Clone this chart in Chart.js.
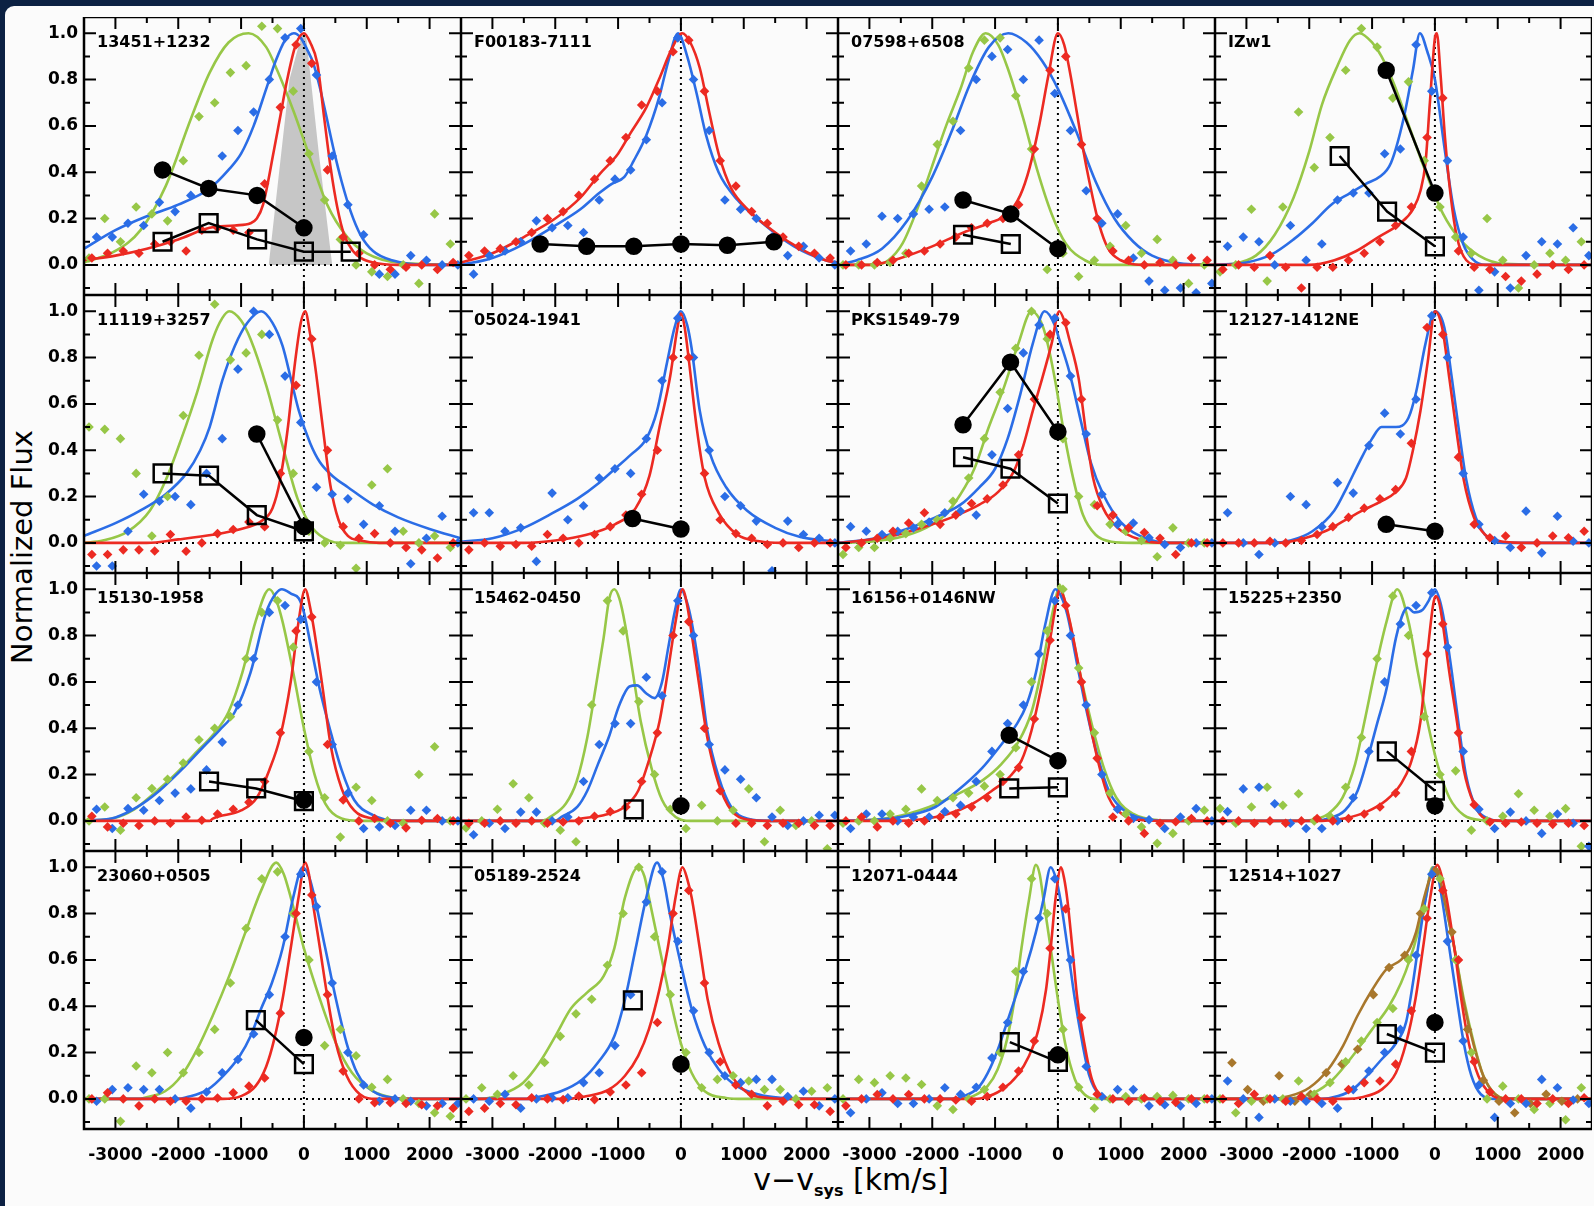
<!DOCTYPE html>
<html>
<head>
<meta charset="utf-8">
<script src="https://cdn.jsdelivr.net/npm/chart.js@4.4.1/dist/chart.umd.min.js"></script>
<style>
html, body { margin: 0; padding: 0; }
body { width: 1594px; height: 1206px; background: #0c2143; position: relative; overflow: hidden; font-family: "DejaVu Sans", sans-serif; }
#sheet { position: absolute; left: 5px; top: 6px; right: 0; bottom: 0; background: #fbfbfb; border-top-left-radius: 9px; }
canvas { position: absolute; }
#ytitle { position: absolute; left: 22px; top: 547px; transform: translate(-50%, -50%) rotate(-90deg); font-size: 29px; white-space: nowrap; color: #000; }
#xtitle { position: absolute; left: 851px; top: 1181px; transform: translate(-50%, -50%); font-size: 30px; white-space: nowrap; color: #000; }
#xtitle sub { font-size: 16px; font-weight: bold; vertical-align: -6px; }
</style>
</head>
<body>
<div id="sheet"></div>
<div id="ytitle">Normalized Flux</div>
<div id="xtitle">v&#8722;v<sub>sys</sub> [km/s]</div>
<script>
// panel names, row by row
const PANEL_NAMES = ['13451+1232', 'F00183-7111', '07598+6508', 'IZw1',
  '11119+3257', '05024-1941', 'PKS1549-79', '12127-1412NE',
  '15130-1958', '15462-0450', '16156+0146NW', '15225+2350',
  '23060+0505', '05189-2524', '12071-0444', '12514+1027'];

// axis ticks
const X_LABELS = [-3000, -2000, -1000, 0, 1000, 2000];
const X_MINOR = [-2500, -1500, -500, 500, 1500];
const Y_LABELS = [0, 0.2, 0.4, 0.6, 0.8, 1.0];
const Y_MINOR = [-0.1, 0.1, 0.3, 0.5, 0.7, 0.9];

// velocity channels of the measured points
const RED_DOT_X = [-3375, -3125, -2875, -2625, -2375, -2125, -1875, -1625, -1375, -1125, -875, -625, -375, -125, 125, 375, 625, 875, 1125, 1375, 1625, 1875, 2125, 2375];
const BLUE_DOT_X = [-3300, -3050, -2800, -2550, -2300, -2050, -1800, -1550, -1300, -1050, -800, -550, -300, -50, 200, 450, 700, 950, 1200, 1450, 1700, 1950, 2200, 2450];
const GREEN_DOT_X = [-3420, -3170, -2920, -2670, -2420, -2170, -1920, -1670, -1420, -1170, -920, -670, -420, -170, 80, 330, 580, 830, 1080, 1330, 1580, 1830, 2080, 2330];
const BROWN_DOT_X = [-3230, -2980, -2730, -2480, -2230, -1980, -1730, -1480, -1230, -980, -730, -480, -230, 20, 270, 520, 770, 1020, 1270, 1520, 1770, 2020, 2270];

// fitted profiles [v, flux]
const RED_FIT = [
  [[-3500,0.02],[-3000,0.04],[-2500,0.07],[-2000,0.11],[-1500,0.16],[-1100,0.17],[-850,0.18],[-750,0.2],[-650,0.26],[-480,0.49],[-370,0.65],[-266,0.8],[-130,0.95],[0,1.0],[100,0.96],[213,0.87],[320,0.64],[425,0.42],[530,0.25],[640,0.13],[780,0.06],[905,0.03],[1100,0.01],[1500,0],[2500,0]],
  [[-3500,0.01],[-3000,0.05],[-2500,0.12],[-2000,0.2],[-1600,0.29],[-1300,0.39],[-1000,0.48],[-800,0.57],[-550,0.68],[-350,0.8],[-150,0.93],[20,1.0],[150,0.96],[300,0.85],[450,0.66],[600,0.48],[800,0.33],[1100,0.23],[1500,0.14],[1900,0.07],[2300,0.02],[2500,0.01]],
  [[-3500,0],[-3000,0],[-2500,0.03],[-2000,0.08],[-1500,0.14],[-1100,0.18],[-800,0.22],[-600,0.3],[-450,0.42],[-300,0.6],[-150,0.82],[0,1.0],[100,0.95],[200,0.82],[300,0.66],[400,0.5],[500,0.36],[650,0.18],[800,0.07],[1000,0.02],[1400,0],[2500,0]],
  [[-3500,0],[-2000,0],[-1600,0.02],[-1250,0.06],[-900,0.12],[-550,0.18],[-350,0.24],[-230,0.32],[-150,0.44],[-80,0.7],[0,0.98],[30,1.0],[90,0.82],[160,0.55],[250,0.3],[350,0.12],[500,0.02],[700,0],[2500,0]],
  [[-3500,0],[-2500,0],[-2000,0.015],[-1450,0.035],[-1000,0.06],[-700,0.09],[-500,0.15],[-380,0.27],[-250,0.51],[-150,0.76],[-50,0.95],[20,1.0],[100,0.9],[170,0.78],[300,0.5],[420,0.25],[550,0.1],[700,0.03],[900,0.01],[1200,0],[2500,0]],
  [[-3500,0],[-2500,0],[-2000,0.01],[-1500,0.035],[-1050,0.08],[-720,0.15],[-500,0.29],[-340,0.5],[-170,0.72],[-60,0.92],[0,0.99],[60,0.93],[130,0.78],[250,0.5],[380,0.28],[600,0.13],[900,0.035],[1250,0.007],[1600,0],[2500,0]],
  [[-3500,0],[-3100,0.01],[-2550,0.035],[-2000,0.08],[-1600,0.12],[-1250,0.165],[-950,0.22],[-700,0.31],[-550,0.42],[-400,0.57],[-250,0.71],[-100,0.86],[20,1.0],[100,0.96],[180,0.88],[330,0.71],[450,0.47],[560,0.28],[720,0.15],[950,0.065],[1300,0.015],[1700,0],[2500,0]],
  [[-3500,0],[-2500,0],[-2150,0.015],[-1750,0.05],[-1450,0.095],[-1150,0.14],[-850,0.18],[-620,0.22],[-460,0.28],[-350,0.4],[-230,0.57],[-115,0.78],[0,1.0],[115,0.93],[230,0.71],[350,0.47],[460,0.27],[620,0.11],[800,0.035],[1100,0.005],[1500,0],[2500,0]],
  [[-3500,0],[-1500,0],[-1450,0.01],[-1000,0.045],[-750,0.1],[-550,0.22],[-380,0.36],[-210,0.6],[-85,0.86],[20,1.0],[100,0.92],[170,0.81],[300,0.57],[430,0.32],[600,0.14],[800,0.045],[1100,0.01],[1500,0],[2500,0]],
  [[-3500,0],[-1700,0],[-1650,0.006],[-1230,0.024],[-900,0.06],[-680,0.13],[-510,0.26],[-340,0.43],[-210,0.64],[-85,0.86],[25,1.0],[100,0.93],[170,0.81],[300,0.57],[420,0.36],[600,0.16],[800,0.046],[1050,0.006],[1400,0],[2500,0]],
  [[-3500,0],[-2500,0],[-2200,0.006],[-1750,0.03],[-1350,0.075],[-1050,0.13],[-770,0.19],[-580,0.26],[-420,0.39],[-270,0.57],[-120,0.79],[0,0.98],[30,1.0],[100,0.96],[190,0.86],[350,0.64],[500,0.43],[650,0.245],[810,0.1],[1050,0.024],[1350,0.003],[1800,0],[2500,0]],
  [[-3500,0],[-1800,0],[-1450,0.01],[-1080,0.04],[-770,0.09],[-540,0.16],[-390,0.245],[-230,0.43],[-120,0.72],[-30,0.93],[10,0.97],[70,0.94],[120,0.86],[230,0.64],[350,0.43],[460,0.22],[620,0.075],[800,0.01],[1100,0],[2500,0]],
  [[-3500,0],[-1300,0],[-1000,0.012],[-770,0.055],[-600,0.14],[-470,0.26],[-340,0.43],[-210,0.65],[-85,0.87],[20,1.02],[80,0.97],[130,0.87],[255,0.65],[380,0.43],[510,0.24],[680,0.1],[890,0.02],[1150,0],[2500,0]],
  [[-3500,0],[-1800,0],[-1490,0.012],[-1150,0.04],[-890,0.1],[-680,0.186],[-510,0.3],[-340,0.475],[-210,0.65],[-85,0.87],[25,1.0],[100,0.95],[170,0.87],[300,0.65],[425,0.43],[600,0.24],[810,0.1],[1060,0.026],[1400,0.004],[1800,0],[2500,0]],
  [[-3500,0],[-1400,0],[-1200,0.004],[-890,0.04],[-650,0.1],[-460,0.185],[-310,0.3],[-190,0.47],[-115,0.65],[-40,0.86],[50,1.0],[100,0.95],[150,0.86],[230,0.65],[310,0.43],[420,0.24],[540,0.085],[700,0.012],[900,0],[2500,0]],
  [[-3500,0],[-1400,0],[-1160,0.007],[-850,0.04],[-620,0.113],[-460,0.24],[-310,0.43],[-190,0.65],[-80,0.86],[40,1.01],[110,0.96],[190,0.86],[310,0.65],[420,0.43],[540,0.24],[690,0.1],[890,0.02],[1100,0],[2500,0]]
];

const BLUE_FIT = [
  [[-3500,0.07],[-3000,0.15],[-2500,0.21],[-2000,0.26],[-1500,0.33],[-1200,0.41],[-1000,0.48],[-800,0.6],[-600,0.76],[-450,0.88],[-300,0.97],[-160,1.0],[-50,0.98],[50,0.93],[150,0.87],[250,0.77],[350,0.65],[480,0.49],[600,0.36],[745,0.23],[900,0.13],[1100,0.06],[1400,0.02],[2000,0],[2500,0]],
  [[-3500,0],[-3000,0.03],[-2500,0.09],[-2000,0.17],[-1600,0.24],[-1300,0.31],[-1100,0.35],[-900,0.38],[-750,0.45],[-550,0.56],[-350,0.72],[-200,0.88],[-45,1.0],[100,0.9],[250,0.74],[400,0.56],[600,0.4],[900,0.28],[1300,0.18],[1800,0.08],[2300,0.02],[2500,0.01]],
  [[-3500,0],[-3200,0.02],[-2800,0.07],[-2400,0.19],[-2000,0.38],[-1700,0.57],[-1400,0.78],[-1100,0.94],[-790,1.0],[-500,0.96],[-250,0.88],[0,0.76],[300,0.57],[600,0.36],[900,0.2],[1200,0.1],[1500,0.04],[2000,0.005],[2500,0]],
  [[-3500,0],[-3000,0.01],[-2600,0.045],[-2250,0.11],[-1950,0.18],[-1650,0.26],[-1350,0.31],[-1100,0.35],[-880,0.38],[-700,0.44],[-500,0.63],[-350,0.84],[-240,1.0],[-120,0.92],[0,0.8],[150,0.51],[300,0.24],[450,0.09],[600,0.025],[800,0],[2500,0]],
  [[-3500,0.03],[-3000,0.085],[-2600,0.14],[-2200,0.21],[-1870,0.3],[-1650,0.4],[-1500,0.5],[-1300,0.7],[-1100,0.85],[-900,0.95],[-680,1.0],[-500,0.95],[-340,0.85],[-200,0.7],[-80,0.57],[100,0.43],[250,0.35],[450,0.29],[700,0.24],[1100,0.165],[1500,0.11],[2000,0.06],[2500,0.02]],
  [[-3500,0.005],[-3000,0.02],[-2500,0.065],[-2100,0.12],[-1650,0.19],[-1300,0.26],[-1050,0.32],[-800,0.38],[-550,0.45],[-380,0.57],[-220,0.78],[-100,0.93],[0,1.0],[100,0.94],[170,0.84],[300,0.57],[470,0.38],[720,0.24],[1050,0.14],[1500,0.065],[1900,0.025],[2500,0.005]],
  [[-3500,0],[-2900,0.02],[-2350,0.065],[-1950,0.11],[-1550,0.165],[-1250,0.24],[-1000,0.32],[-800,0.45],[-600,0.64],[-400,0.86],[-210,1.0],[-50,0.94],[20,0.88],[180,0.74],[370,0.52],[520,0.35],[720,0.21],[1000,0.09],[1400,0.02],[1800,0],[2500,0]],
  [[-3500,0],[-2600,0],[-2300,0.01],[-1950,0.05],[-1600,0.14],[-1400,0.24],[-1200,0.35],[-1000,0.45],[-850,0.5],[-620,0.5],[-420,0.54],[-300,0.65],[-150,0.86],[0,1.0],[150,0.93],[270,0.71],[390,0.47],[500,0.27],[650,0.11],[850,0.02],[1100,0],[2500,0]],
  [[-3500,0],[-3000,0.015],[-2650,0.06],[-2300,0.13],[-1950,0.22],[-1600,0.32],[-1350,0.39],[-1100,0.47],[-850,0.64],[-600,0.9],[-450,0.98],[-350,1.0],[-200,0.98],[-80,0.96],[0,0.9],[85,0.79],[250,0.57],[420,0.39],[600,0.22],[800,0.09],[1100,0.025],[1500,0],[2500,0]],
  [[-3500,0],[-2000,0],[-1900,0.017],[-1650,0.06],[-1490,0.13],[-1320,0.245],[-1150,0.36],[-980,0.5],[-820,0.58],[-700,0.585],[-550,0.55],[-420,0.53],[-300,0.6],[-200,0.75],[-100,0.9],[0,1.0],[90,0.95],[170,0.86],[300,0.64],[420,0.39],[600,0.19],[800,0.06],[1050,0.01],[1400,0],[2500,0]],
  [[-3500,0],[-2900,0.005],[-2500,0.017],[-1950,0.06],[-1600,0.13],[-1200,0.23],[-900,0.33],[-650,0.42],[-500,0.5],[-350,0.64],[-200,0.85],[-40,1.0],[50,0.97],[150,0.89],[310,0.67],[460,0.47],[620,0.29],[810,0.13],[1050,0.046],[1350,0.01],[1800,0],[2500,0]],
  [[-3500,0],[-1900,0],[-1700,0.01],[-1430,0.046],[-1230,0.13],[-1080,0.26],[-920,0.42],[-770,0.57],[-620,0.79],[-500,0.9],[-430,0.92],[-330,0.9],[-200,0.91],[-100,0.95],[0,1.0],[80,0.95],[150,0.86],[270,0.64],[390,0.39],[500,0.19],[650,0.06],[850,0.01],[1100,0],[2500,0]],
  [[-3500,0],[-2000,0],[-1870,0.007],[-1530,0.04],[-1280,0.1],[-1020,0.186],[-850,0.27],[-680,0.39],[-510,0.5],[-340,0.65],[-170,0.87],[-20,1.0],[80,0.96],[170,0.87],[340,0.65],[510,0.43],[680,0.24],[850,0.11],[1100,0.033],[1450,0.004],[1800,0],[2500,0]],
  [[-3500,0],[-2400,0],[-2340,0.004],[-1910,0.033],[-1570,0.084],[-1320,0.157],[-1060,0.27],[-890,0.43],[-720,0.65],[-550,0.87],[-380,1.02],[-280,0.95],[-170,0.79],[0,0.58],[170,0.39],[380,0.23],[600,0.128],[890,0.055],[1300,0.015],[1800,0.003],[2500,0]],
  [[-3500,0],[-1700,0],[-1500,0.012],[-1270,0.048],[-1120,0.11],[-960,0.21],[-810,0.33],[-650,0.46],[-500,0.575],[-350,0.72],[-230,0.86],[-115,1.0],[-30,0.95],[40,0.86],[155,0.65],[270,0.43],[390,0.24],[500,0.1],[650,0.02],[850,0],[2500,0]],
  [[-3500,0],[-1800,0],[-1540,0.012],[-1310,0.04],[-1080,0.1],[-850,0.17],[-620,0.24],[-460,0.33],[-350,0.5],[-270,0.65],[-150,0.86],[-15,1.0],[50,0.96],[115,0.86],[230,0.65],[350,0.43],[460,0.24],[580,0.1],[730,0.02],[950,0],[2500,0]]
];

const GREEN_FIT = [
  [[-3500,0.01],[-3000,0.06],[-2600,0.15],[-2200,0.34],[-1800,0.63],[-1500,0.83],[-1200,0.96],[-880,1.0],[-600,0.94],[-425,0.84],[-160,0.66],[100,0.46],[370,0.26],[690,0.12],[1000,0.05],[1500,0.01],[2500,0]],
  null,
  [[-3500,0],[-2900,0],[-2700,0.02],[-2470,0.094],[-2240,0.24],[-2010,0.42],[-1780,0.6],[-1550,0.76],[-1350,0.92],[-1150,1.0],[-950,0.95],[-800,0.85],[-560,0.64],[-330,0.41],[-100,0.22],[130,0.09],[430,0.02],[700,0],[2500,0]],
  [[-3500,0],[-3200,0.005],[-2850,0.04],[-2550,0.13],[-2250,0.29],[-2000,0.49],[-1800,0.69],[-1550,0.86],[-1350,0.97],[-1200,1.0],[-1000,0.96],[-850,0.9],[-650,0.78],[-400,0.59],[-130,0.39],[130,0.22],[400,0.11],[700,0.04],[1100,0.005],[2500,0]],
  [[-3500,0],[-3200,0.01],[-2800,0.05],[-2450,0.14],[-2200,0.27],[-1950,0.45],[-1700,0.65],[-1450,0.88],[-1300,0.97],[-1190,1.0],[-1000,0.96],[-850,0.88],[-600,0.68],[-340,0.42],[-100,0.19],[150,0.06],[400,0.01],[600,0],[2500,0]],
  null,
  [[-3500,0],[-3000,0.005],[-2550,0.022],[-2100,0.065],[-1800,0.12],[-1550,0.21],[-1330,0.32],[-1100,0.5],[-860,0.67],[-630,0.86],[-420,1.0],[-300,0.97],[-200,0.9],[-50,0.71],[100,0.47],[250,0.27],[400,0.12],[600,0.035],[850,0.005],[1200,0],[2500,0]],
  null,
  [[-3500,0],[-3050,0.01],[-2700,0.05],[-2400,0.115],[-2050,0.2],[-1700,0.3],[-1450,0.37],[-1200,0.47],[-980,0.64],[-770,0.86],[-550,1.0],[-450,0.96],[-340,0.86],[-170,0.64],[0,0.4],[170,0.2],[340,0.075],[600,0.01],[900,0],[2500,0]],
  [[-3500,0],[-2200,0],[-2080,0.017],[-1830,0.075],[-1660,0.17],[-1490,0.36],[-1360,0.57],[-1230,0.79],[-1140,0.96],[-1060,1.0],[-980,0.96],[-890,0.85],[-765,0.64],[-640,0.43],[-470,0.23],[-300,0.09],[-85,0.017],[150,0],[2500,0]],
  [[-3500,0],[-3100,0.003],[-2600,0.017],[-2050,0.06],[-1600,0.115],[-1200,0.175],[-900,0.245],[-620,0.345],[-420,0.47],[-270,0.64],[-120,0.855],[0,1.0],[25,1.02],[80,0.98],[190,0.855],[350,0.64],[540,0.416],[730,0.23],[930,0.1],[1200,0.03],[1600,0.003],[2000,0],[2500,0]],
  [[-3500,0],[-2300,0],[-2000,0.003],[-1700,0.03],[-1470,0.1],[-1270,0.245],[-1120,0.43],[-960,0.64],[-770,0.86],[-600,1.0],[-420,0.86],[-270,0.64],[-120,0.43],[40,0.245],[230,0.1],[460,0.025],[770,0.003],[1100,0],[2500,0]],
  [[-3500,0],[-2600,0],[-2550,0.004],[-2210,0.033],[-1950,0.1],[-1700,0.214],[-1450,0.36],[-1190,0.53],[-930,0.72],[-680,0.9],[-440,1.02],[-320,0.97],[-210,0.87],[0,0.65],[255,0.43],[510,0.24],[765,0.113],[1100,0.033],[1450,0.004],[1800,0],[2500,0]],
  [[-3500,0],[-3200,0],[-2850,0.02],[-2510,0.07],[-2250,0.157],[-2000,0.27],[-1750,0.39],[-1490,0.46],[-1230,0.53],[-1060,0.65],[-890,0.87],[-680,1.0],[-580,0.96],[-510,0.87],[-340,0.65],[-170,0.43],[0,0.24],[170,0.113],[380,0.033],[720,0.004],[1000,0],[2500,0]],
  [[-3500,0],[-1600,0],[-1350,0.012],[-1120,0.055],[-960,0.127],[-810,0.257],[-690,0.43],[-580,0.65],[-460,0.86],[-350,1.01],[-290,0.97],[-230,0.86],[-115,0.65],[0,0.43],[115,0.24],[270,0.085],[420,0.02],[600,0],[2500,0]],
  [[-3500,0],[-2500,0],[-2240,0.004],[-1930,0.026],[-1620,0.085],[-1310,0.185],[-1000,0.3],[-730,0.4],[-540,0.5],[-400,0.6],[-270,0.72],[-150,0.86],[-40,1.0],[50,0.96],[150,0.86],[310,0.65],[460,0.43],[620,0.24],[770,0.1],[960,0.02],[1200,0],[2500,0]]
];

// extra component in the last panel
const BROWN_FIT = [[-3500,0],[-2600,0],[-2310,0.012],[-2000,0.048],[-1700,0.127],[-1460,0.23],[-1230,0.36],[-1000,0.47],[-770,0.56],[-540,0.6],[-400,0.65],[-300,0.72],[-180,0.86],[-60,0.97],[0,1.0],[60,0.97],[150,0.86],[310,0.65],[460,0.415],[620,0.23],[770,0.1],[960,0.02],[1200,0],[2500,0]];
const BROWN_DOTS = [0.156,0.04,-0.01,0.1,-0.01,0.02,0.113,0.15,0.214,0.45,0.567,0.62,0.8,0.98,0.72,0.3,0.08,-0.01,-0.06,-0.02,0.02,-0.01,0];

// instrumental profile in the first panel
const GRAY_PROFILE = [[-560,0],[-230,0.8],[-30,1.0],[30,1.0],[230,0.5],[450,0]];

// measured points, flux per channel
const RED_DOTS = [
  [0.03,0.05,0.06,0.05,0.09,0.1,0.06,0.15,0.16,0.15,0.14,0.35,0.68,0.95,0.87,0.41,0.12,0.05,0,-0.02,-0.01,0,-0.02,0.01],
  [0.04,0.06,0.07,0.1,0.14,0.2,0.23,0.3,0.37,0.45,0.55,0.69,0.75,0.92,0.97,0.75,0.45,0.34,0.23,0.18,0.12,0.08,0.05,0.03],
  [0,0,0.01,0.02,0.05,0.06,0.09,0.12,0.16,0.18,0.2,0.26,0.5,0.84,0.9,0.52,0.2,0.06,0.02,0,0.01,0,0.03,0.02],
  [-0.02,0,-0.01,0.04,-0.01,-0.1,-0.01,-0.01,0.02,0.05,0.1,0.17,0.25,0.55,0.72,0.06,-0.01,-0.02,-0.05,-0.07,-0.04,0,-0.02,0],
  [-0.05,-0.05,-0.03,-0.03,-0.035,0.036,-0.036,0,0.04,0.058,0.09,0.07,0.3,0.68,0.88,0.4,0.07,0.02,0.04,0,-0.02,-0.03,-0.065,0],
  [-0.03,0,-0.014,-0.007,-0.014,0.036,0.02,0,0.036,0.07,0.12,0.21,0.4,0.8,0.8,0.3,0.1,0.04,0.02,-0.007,0,-0.02,0,0],
  [-0.02,0,0.02,0.05,0.086,0.13,0.08,0.12,0.17,0.19,0.25,0.38,0.62,0.9,0.95,0.62,0.16,0.12,0.065,0.045,0.02,-0.05,0,0],
  [0,0,0,0.007,0,0.01,0.036,0.07,0.11,0.15,0.19,0.23,0.43,0.93,0.9,0.37,0.08,0.022,0.03,-0.02,0,0.03,0.022,0.05],
  [0.02,-0.026,-0.01,-0.02,0,-0.01,0.017,0.003,0.03,0.05,0.08,0.17,0.38,0.82,0.88,0.33,0.09,0,0.01,-0.01,-0.03,0.003,0.01,0],
  [-0.01,-0.01,0,-0.01,0,-0.01,-0.005,0,0.02,0.04,0.06,0.17,0.38,0.8,0.86,0.4,0.13,-0.01,-0.01,-0.02,-0.01,-0.01,-0.02,-0.02],
  [0,0.017,-0.026,0,-0.01,0,0.017,0.03,0.06,0.1,0.17,0.23,0.44,0.78,0.93,0.6,0.27,0.017,0,-0.054,-0.01,-0.004,0.01,0],
  [0,0,-0.01,0,-0.01,0,0.01,0,0.01,0.03,0.06,0.12,0.3,0.72,0.85,0.38,0.07,-0.005,-0.01,-0.005,-0.01,-0.015,-0.01,-0.02],
  [0,0.026,0,-0.03,0,-0.01,-0.01,0,0.004,0.026,0.055,0.09,0.37,0.8,0.88,0.45,0.12,0,-0.017,-0.017,-0.02,-0.025,-0.03,-0.04],
  [-0.054,-0.04,-0.02,-0.025,0.005,0,-0.003,0.012,-0.003,0.03,0.06,0.113,0.33,0.8,0.9,0.5,0.16,0.06,0.02,-0.03,-0.01,-0.025,-0.025,-0.054],
  [-0.03,0,0.019,0,0.019,0,0,-0.005,-0.01,0.01,0.05,0.12,0.25,0.65,0.82,0.35,0.02,0,-0.01,0.004,-0.01,-0.015,0,0],
  [0,-0.02,0.02,0,-0.01,0.01,0,-0.01,0.04,0.07,0.077,0.15,0.38,0.78,0.9,0.6,0.16,0.03,0,0,-0.02,0,-0.02,0.005]
];

const BLUE_DOTS = [
  [0.12,0.12,0.18,0.17,0.27,0.23,0.3,0.34,0.47,0.58,0.66,0.8,0.98,1.02,0.82,0.47,0.26,0.13,-0.04,-0.04,0.04,0.02,0,0],
  [-0.04,0.04,0.06,0.1,0.19,0.16,0.17,0.14,0.28,0.37,0.41,0.54,0.7,0.98,0.8,0.58,0.28,0.24,0.2,0.12,0.04,0.08,0.03,0],
  [0.06,0.09,0.21,0.2,0.22,0.24,0.25,0.58,0.8,0.9,0.93,0.8,0.97,0.74,0.58,0.32,0.18,0.22,0.03,-0.07,-0.11,-0.1,-0.12,-0.08],
  [0.08,0.12,0.1,0,0.17,0.02,0.09,0.28,0.31,0.31,0.48,0.5,0.95,0.75,0.45,0.12,-0.11,-0.03,-0.1,0.04,0.1,0.09,0.16,0.04],
  [-0.1,-0.1,0.05,0.21,0.18,0.2,0.165,0.3,0.45,0.75,1.0,0.9,0.72,0.52,0.24,0.21,0.19,0.08,0.16,0.05,-0.09,0.02,0.115,0],
  [0.13,0.13,0.05,0.065,-0.08,0.215,0.1,0.16,0.28,0.32,0.3,0.45,0.7,0.97,0.8,0.4,0.2,0.16,0.094,-0.12,0.094,0.036,0.02,0],
  [0.07,0.05,0.036,0.05,0.065,0.09,0.13,0.137,0.12,0.38,0.58,0.82,0.94,0.97,0.72,0.47,0.21,0.08,0.086,0.022,-0.007,-0.02,0,0],
  [0.13,0,-0.05,0,0.2,0.165,0.07,0.26,0.215,0.42,0.56,0.47,0.62,0.98,0.8,0.3,0.08,0.01,-0.02,0.137,-0.043,0.115,0.007,0],
  [0.05,-0.033,0.053,0.046,0.088,0.12,0.138,0.22,0.34,0.5,0.7,0.9,0.93,0.87,0.6,0.33,0.12,-0.033,-0.026,-0.02,0.046,0.046,0,0],
  [-0.06,-0.01,-0.033,0.038,0.038,0,0.017,0.17,0.33,0.42,0.42,0.62,0.54,0.95,0.8,0.33,0.22,0.18,0.1,0.017,-0.02,0,0.024,0.024],
  [-0.033,0.03,0.03,0,0.017,0.017,0.04,0.067,0.17,0.3,0.42,0.5,0.72,0.95,0.8,0.5,0.2,0.05,0.01,0.005,-0.033,0.017,0.053,0],
  [0.04,0.138,0.145,0.074,-0.01,-0.033,-0.033,0,0.1,0.3,0.6,0.85,0.93,0.985,0.75,0.3,0.05,-0.033,0.038,0,-0.054,0.03,-0.01,-0.11],
  [-0.01,0.04,0.048,0.04,0.04,0,-0.04,0.03,0.113,0.17,0.28,0.45,0.7,0.97,0.83,0.5,0.2,0.06,-0.01,0,-0.01,-0.03,-0.02,-0.02],
  [0,-0.01,0.02,-0.04,0,0.004,0.005,0.07,0.113,0.23,0.45,0.85,0.98,0.68,0.38,0.2,0.1,0.07,0.084,0.084,0.01,0.033,-0.03,0],
  [-0.06,0,0.026,-0.02,-0.02,0,0.048,0.02,0.05,0.177,0.33,0.55,0.78,0.95,0.6,0.14,0.01,0.04,0.04,-0.03,-0.025,-0.03,-0.02,0],
  [0.077,0,-0.08,0,-0.01,-0.01,-0.02,-0.04,0.04,0.12,0.2,0.3,0.62,0.97,0.68,0.25,0.06,-0.08,-0.02,-0.02,0.084,0.048,-0.005,-0.02]
];

const GREEN_DOTS = [
  [0.03,0.2,0.1,0.25,0.22,0.19,0.45,0.64,0.7,0.83,0.86,1.03,1.02,0.75,0.48,0.28,0.11,0,-0.03,-0.05,0,-0.08,0.22,0.09],
  null,
  [0,0,0,0.01,0.05,0.34,0.52,0.62,0.85,0.97,0.98,0.73,0.5,-0.02,0.05,-0.05,0.02,0.08,0.17,0.05,0.11,0.02,-0.08,0],
  [-0.03,0,0.24,-0.07,0.25,0.66,0.42,0.55,0.84,1.02,0.94,0.72,0.79,0.45,0.25,0.12,0.05,0.2,0.02,-0.1,0,0.05,0.02,0.1],
  [0.5,0.49,0.45,0.3,0.03,0.2,0.55,0.81,1.03,0.79,0.82,0.9,0.53,0.3,0.05,0,-0.01,-0.11,0.25,0.32,0.05,0,0.03,-0.02],
  null,
  [-0.05,-0.02,-0.02,0.02,0.04,0.08,0.1,0.18,0.28,0.45,0.65,0.84,1.0,0.88,0.45,0.2,0.165,0.08,0.05,0.01,-0.06,0.065,0,0],
  null,
  [0,0.06,-0.04,0.1,0.14,0.18,0.25,0.35,0.4,0.45,0.7,0.9,0.95,0.75,0.3,0.1,-0.07,0.145,0.088,0,-0.01,0.2,0.32,0],
  [-0.03,0,0.05,0.16,0.1,-0.01,-0.04,-0.09,0.5,0.95,0.82,0.515,0.2,0.05,-0.033,0.067,0,0.046,0.138,-0.09,0.046,-0.02,0,-0.12],
  [-0.01,0,0,0.03,0.05,0.138,0.088,0.1,0.12,0.15,0.2,0.316,0.6,0.82,1.0,0.66,0.38,0.12,0.03,-0.026,-0.097,-0.054,0,0.046],
  [0.053,-0.01,0.06,0.145,0.067,0.117,0,0.02,0.145,0.36,0.7,0.97,0.8,0.45,0.2,0.216,-0.04,0,0.02,0.117,0.046,0.02,0.053,-0.11],
  [0,0,-0.097,0.142,0.113,0.2,0.113,0.2,0.3,0.5,0.736,0.95,0.98,0.8,0.6,0.23,0.3,0.186,0.05,0.084,0,-0.02,-0.06,-0.075],
  [0,0.048,0.02,0.1,0.06,0.157,0.27,0.367,0.43,0.577,0.8,1.0,0.7,0.45,0.2,0.048,0.084,0.1,0.077,0.04,0.04,0,0.033,0.048],
  [0,0.084,0.07,0.1,0.09,0.062,-0.03,-0.046,0,0.04,0.2,0.55,0.95,0.8,0.3,0.05,-0.04,0,0.01,0,0.01,0.015,0,0],
  [0,-0.06,-0.01,0,0,0.077,0.02,0.07,0.16,0.25,0.33,0.39,0.6,0.82,0.95,0.6,0.2,0,0.055,0,-0.046,-0.02,-0.09,0.048]
];

// black markers [v, flux]
const FILLED_PTS = [
  [[-2250,0.41],[-1516,0.33],[-745,0.3],[0,0.16]],
  [[-2240,0.09],[-1500,0.08],[-750,0.08],[0,0.09],[740,0.085],[1480,0.1]],
  [[-1510,0.28],[-750,0.22],[0,0.07]],
  [[-775,0.84],[0,0.31]],
  [[-750,0.47],[0,0.07]],
  [[-770,0.105],[0,0.06]],
  [[-1510,0.51],[-755,0.78],[0,0.48]],
  [[-775,0.08],[0,0.05]],
  [[0,0.09]],
  [[0,0.065]],
  [[-775,0.37],[0,0.26]],
  [[0,0.065]],
  [[0,0.265]],
  [[0,0.15]],
  [[0,0.19]],
  [[0,0.33]]
];

const OPEN_PTS = [
  [[-2250,0.1],[-1516,0.18],[-745,0.11],[0,0.057],[745,0.057]],
  [],
  [[-1510,0.13],[-750,0.09]],
  [[-1516,0.47],[-761,0.23],[0,0.08]],
  [[-2250,0.3],[-1510,0.29],[-750,0.12],[0,0.05]],
  [],
  [[-1510,0.37],[-755,0.32],[0,0.17]],
  [],
  [[-1510,0.17],[-760,0.14],[0,0.085]],
  [[-750,0.05]],
  [[-775,0.14],[0,0.145]],
  [[-765,0.3],[0,0.13]],
  [[-765,0.34],[0,0.15]],
  [[-765,0.425]],
  [[-765,0.245],[0,0.16]],
  [[-765,0.28],[0,0.2]]
];

// layout
const COL_LEFT = [84, 461, 838, 1215];
const ROW_TOP = [17, 295, 573, 851];
const PLOT_W = 377, PLOT_H = 278;
const AXIS_W = 84, AXIS_H = 56;
const RED = '#ec2a22', BLUE = '#2b6de6', GREEN = '#97c747', BROWN = '#a8772c';
const TICK_FONT = 'bold 17px "DejaVu Sans"';
const NAME_FONT = 'bold 16px "DejaVu Sans"';

Chart.defaults.font.family = '"DejaVu Sans", sans-serif';

function pts(list) {
  return list.map(function (p) { return { x: p[0], y: p[1] }; });
}
function dotPts(xs, ys) {
  return xs.map(function (x, i) { return { x: x, y: ys[i] }; });
}

function drawZeroLines(chart) {
  var ctx = chart.ctx, a = chart.chartArea;
  var x0 = chart.scales.x.getPixelForValue(0);
  var y0 = chart.scales.y.getPixelForValue(0);
  ctx.save();
  ctx.strokeStyle = '#000';
  ctx.lineWidth = 2;
  ctx.setLineDash([2, 4]);
  ctx.beginPath();
  ctx.moveTo(a.left, y0); ctx.lineTo(a.right, y0);
  ctx.moveTo(x0, a.top); ctx.lineTo(x0, a.bottom);
  ctx.stroke();
  ctx.restore();
}

// frame, inward ticks on every side, tick labels, zero lines and the panel name
var panelDecor = {
  id: 'panelDecor',
  beforeDatasetsDraw: function (chart, args, opts) {
    if (!opts.gray) drawZeroLines(chart);
  },
  afterDatasetDraw: function (chart, args, opts) {
    if (opts.gray && chart.data.datasets[args.index].label === 'gray') drawZeroLines(chart);
  },
  afterDraw: function (chart, args, opts) {
    var ctx = chart.ctx, a = chart.chartArea, sx = chart.scales.x, sy = chart.scales.y;
    ctx.save();
    ctx.strokeStyle = '#000';
    ctx.lineWidth = 2;
    ctx.beginPath();
    function xt(v, len) {
      var px = sx.getPixelForValue(v);
      ctx.moveTo(px, a.bottom); ctx.lineTo(px, a.bottom - len);
      ctx.moveTo(px, a.top); ctx.lineTo(px, a.top + len);
    }
    function yt(v, len) {
      var py = sy.getPixelForValue(v);
      ctx.moveTo(a.left, py); ctx.lineTo(a.left + len, py);
      ctx.moveTo(a.right, py); ctx.lineTo(a.right - len, py);
    }
    X_LABELS.forEach(function (v) { xt(v, 12); });
    X_MINOR.forEach(function (v) { xt(v, 6); });
    Y_LABELS.forEach(function (v) { yt(v, 12); });
    Y_MINOR.forEach(function (v) { yt(v, 6); });
    ctx.stroke();
    ctx.lineWidth = 2.5;
    ctx.strokeRect(a.left, a.top, a.right - a.left, a.bottom - a.top);

    ctx.fillStyle = '#000';
    ctx.font = TICK_FONT;
    if (opts.left) {
      ctx.textAlign = 'right'; ctx.textBaseline = 'middle';
      Y_LABELS.forEach(function (v) { ctx.fillText(v.toFixed(1), a.left - 6, sy.getPixelForValue(v)); });
    }
    if (opts.bottom) {
      ctx.textAlign = 'center'; ctx.textBaseline = 'middle';
      X_LABELS.forEach(function (v) { ctx.fillText(String(v), sx.getPixelForValue(v), a.bottom + 27); });
    }
    ctx.font = NAME_FONT;
    ctx.textAlign = 'left'; ctx.textBaseline = 'middle';
    ctx.fillText(opts.name, a.left + 13, a.top + 26);
    ctx.restore();
  }
};

function curve(label, list, color, order) {
  return { label: label, data: pts(list), showLine: true, borderColor: color, borderWidth: 2.6,
    pointRadius: 0, cubicInterpolationMode: 'monotone', fill: false, order: order };
}
function dots(label, xs, ys, color, order) {
  return { label: label, data: dotPts(xs, ys), showLine: false, pointStyle: 'rectRot', pointRadius: 4.8,
    backgroundColor: color, borderColor: color, borderWidth: 0, order: order };
}

for (var i = 0; i < 16; i++) {
  var row = Math.floor(i / 4), col = i % 4;
  var isLeft = col === 0, isBottom = row === 3;
  var canvas = document.createElement('canvas');
  var padL = isLeft ? AXIS_W : 0, padB = isBottom ? AXIS_H : 0;
  var w = PLOT_W + padL, h = PLOT_H + padB;
  canvas.width = w; canvas.height = h;
  canvas.style.left = (COL_LEFT[col] - padL) + 'px';
  canvas.style.top = ROW_TOP[row] + 'px';
  canvas.style.width = w + 'px'; canvas.style.height = h + 'px';
  document.body.appendChild(canvas);

  var datasets = [];
  datasets.push({ label: 'filled', data: pts(FILLED_PTS[i]), showLine: true, borderColor: '#000', borderWidth: 2.5,
    pointStyle: 'circle', pointRadius: 7.5, backgroundColor: '#000', pointBackgroundColor: '#000', order: 0 });
  if (OPEN_PTS[i].length) {
    datasets.push({ label: 'open', data: pts(OPEN_PTS[i]), showLine: true, borderColor: '#000', borderWidth: 2.5,
      pointStyle: 'rect', pointRadius: 12.5, pointBorderWidth: 2.5, pointBackgroundColor: 'rgba(0,0,0,0)', order: 1 });
  }
  datasets.push(dots('red pts', RED_DOT_X, RED_DOTS[i], RED, 2));
  datasets.push(dots('blue pts', BLUE_DOT_X, BLUE_DOTS[i], BLUE, 2));
  if (GREEN_DOTS[i]) datasets.push(dots('green pts', GREEN_DOT_X, GREEN_DOTS[i], GREEN, 2));
  if (i === 15) datasets.push(dots('brown pts', BROWN_DOT_X, BROWN_DOTS, BROWN, 2));
  datasets.push(curve('red fit', RED_FIT[i], RED, 3));
  datasets.push(curve('blue fit', BLUE_FIT[i], BLUE, 4));
  if (GREEN_FIT[i]) datasets.push(curve('green fit', GREEN_FIT[i], GREEN, 5));
  if (i === 15) datasets.push(curve('brown fit', BROWN_FIT, BROWN, 3.5));
  if (i === 0) {
    datasets.push({ label: 'gray', data: pts(GRAY_PROFILE), showLine: true, borderWidth: 0, borderColor: 'rgba(0,0,0,0)',
      backgroundColor: '#c6c6c6', fill: 'origin', pointRadius: 0, tension: 0, order: 9 });
  }

  new Chart(canvas, {
    type: 'scatter',
    data: { datasets: datasets },
    options: {
      animation: false, responsive: false, maintainAspectRatio: false, events: [],
      layout: { autoPadding: false, padding: { left: padL, bottom: padB, top: 0, right: 0 } },
      plugins: {
        legend: { display: false }, tooltip: { enabled: false },
        panelDecor: { name: PANEL_NAMES[i], gray: i === 0, left: isLeft, bottom: isBottom }
      },
      scales: {
        x: { type: 'linear', min: -3500, max: 2500, display: false },
        y: { type: 'linear', min: -0.13, max: 1.07, display: false }
      }
    },
    plugins: [panelDecor]
  });
}
</script>
</body>
</html>
